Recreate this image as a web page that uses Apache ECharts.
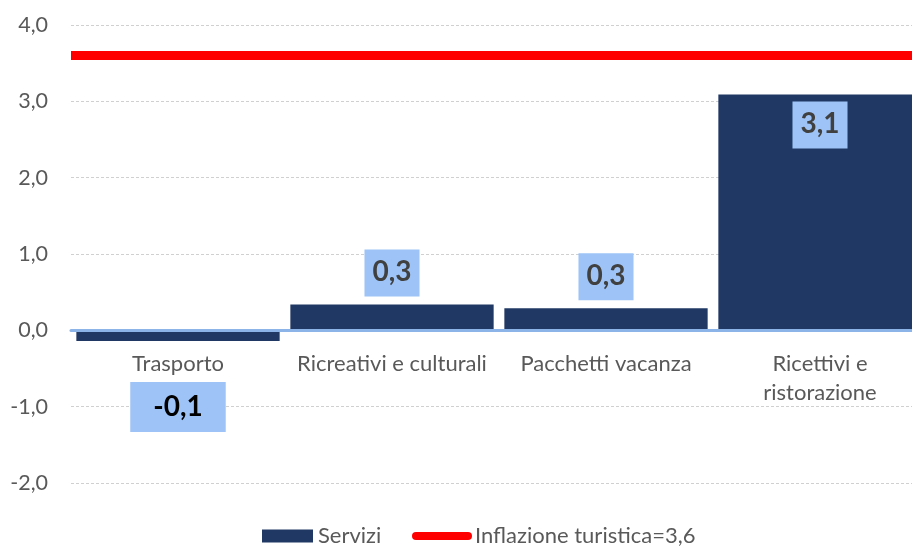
<!DOCTYPE html>
<html>
<head>
<meta charset="utf-8">
<script src="https://cdn.jsdelivr.net/npm/echarts@6/dist/echarts.min.js"></script>
<style>html,body{margin:0;padding:0;background:#fff;}#c{width:912px;height:548px;}</style>
</head>
<body>
<div id="c"></div>
<script>
const categories = ['Trasporto', 'Ricreativi e culturali', 'Pacchetti vacanza', 'Ricettivi e\nristorazione'];
const serviziValues = [-0.14, 0.34, 0.29, 3.09];
const inflationValue = 3.6;
const seriesNames = ['Servizi', 'Inflazione turistica=3,6'];
const yTicks = { min: -2, max: 4, interval: 1 };

const fmt = v => v.toFixed(1).replace('.', ',');
const FONT = 'Lato';
const BAR = '#203864';
const BOX = '#9DC3F7';

const barData = serviziValues.map((v, i) => {
  let label;
  if (v < 0) {
    label = { position: 'bottom', distance: 41, color: '#000', padding: [11, 23, 11, 23] };
  } else if (v > 2) {
    label = { position: 'insideTop', distance: 7, color: '#404040', padding: [9, 8, 10, 8] };
  } else {
    label = { position: 'top', distance: 8, color: '#404040', padding: [9, 8, 10, 8] };
  }
  return { value: v, label };
});

const chart = echarts.init(document.getElementById('c'), null, { renderer: 'canvas' });
chart.setOption({
  animation: false,
  backgroundColor: '#fff',
  grid: { left: 71, top: 25, width: 856, height: 458, containLabel: false, outerBoundsMode: 'none' },
  xAxis: {
    type: 'category',
    data: categories,
    z: 3,
    axisLine: { onZero: true, lineStyle: { color: '#8DB4E8', width: 3 } },
    axisTick: { show: false },
    axisLabel: { color: '#595959', fontFamily: FONT, fontSize: 22, lineHeight: 29, margin: -134, interval: 0 },
    splitLine: { show: false }
  },
  yAxis: {
    type: 'value',
    min: yTicks.min, max: yTicks.max, interval: yTicks.interval,
    axisLine: { show: false },
    axisTick: { show: false },
    axisLabel: { color: '#595959', fontFamily: FONT, fontSize: 21.5, margin: 23, formatter: v => fmt(v) },
    splitLine: { lineStyle: { color: '#D0D0D0', type: [3, 2], width: 1 } }
  },
  legend: [
    {
      data: [{ name: seriesNames[0], icon: 'rect' }],
      left: 262, top: 525, padding: 0,
      itemWidth: 51, itemHeight: 13,
      textStyle: { color: '#595959', fontFamily: FONT, fontSize: 22 }
    },
    {
      data: [{ name: seriesNames[1], icon: 'path://M4,0 L56,0 A4,4 0 0 1 56,8 L4,8 A4,4 0 0 1 4,0 Z', itemStyle: { color: '#FF0000' } }],
      left: 412, top: 525, padding: 0,
      itemWidth: 60, itemHeight: 8,
      textStyle: { color: '#595959', fontFamily: FONT, fontSize: 22, padding: [0, 0, 0, -2] }
    }
  ],
  series: [
    {
      name: seriesNames[0],
      type: 'bar',
      data: barData,
      barCategoryGap: '5%',
      itemStyle: { color: BAR },
      label: {
        show: true,
        fontFamily: FONT, fontSize: 28, fontWeight: 'bold', lineHeight: 28,
        backgroundColor: BOX,
        formatter: p => fmt(p.value)
      }
    },
    {
      name: seriesNames[1],
      type: 'line',
      data: [],
      itemStyle: { color: '#FF0000' },
      lineStyle: { color: '#FF0000', width: 9 },
      markLine: {
        silent: true,
        symbol: ['none', 'none'],
        label: { show: false },
        lineStyle: { color: '#FF0000', width: 9, type: 'solid' },
        data: [{ yAxis: inflationValue }]
      }
    }
  ]
});
</script>
</body>
</html>
